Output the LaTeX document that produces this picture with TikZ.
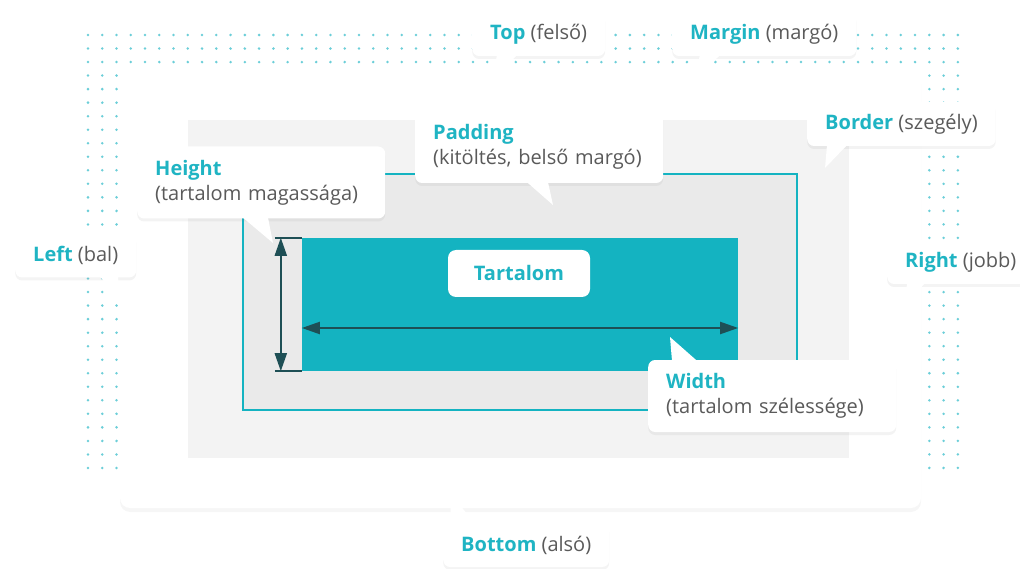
\documentclass[tikz,border=0pt]{standalone}
\usepackage{fontspec}
\setmainfont{Open Sans}
\usetikzlibrary{arrows.meta,shadows}
\definecolor{tealbox}{HTML}{14B3C1}
\definecolor{tealtxt}{HTML}{1FB4C3}
\definecolor{darkarr}{HTML}{1E4F55}
\definecolor{greytxt}{HTML}{5A5A5A}
\definecolor{borderfill}{HTML}{F3F3F3}
\definecolor{padfill}{HTML}{EAEAEA}
\definecolor{dotcol}{HTML}{6CCED8}
\newcommand\boxtitle[1]{{\color{tealtxt}\bfseries #1}}
\newcommand\boxnote[1]{{\color{greytxt}#1}}
\tikzset{
  softshadow/.style={drop shadow={opacity=0.09, shadow xshift=0pt, shadow yshift=-3pt}},
  bubble/.style={fill=white, rounded corners=7pt, inner xsep=18pt, inner ysep=0pt,
    minimum height=44pt, align=left, font=\fontsize{20}{25}\selectfont, softshadow},
  twoline/.style={minimum height=72pt, text width=212pt},
  tail/.style={fill=white},
  tick/.style={darkarr, line width=1.5pt},
  dim/.style={darkarr, line width=2pt,
    {Triangle[length=18pt,width=12pt]}-{Triangle[length=18pt,width=12pt]}},
}
\begin{document}
\begin{tikzpicture}[x=1pt, y=-1pt]
    \useasboundingbox (0,0) rectangle (1020,569);
    \foreach \i in {0,...,61} {
      \foreach \j in {0,...,32} {
        \fill[dotcol] ({88+\i*14.26},{35+\j*13.53}) circle (1.4pt);
      }
    }
    \fill[white, rounded corners=10pt, drop shadow={opacity=0.07, shadow xshift=0pt, shadow yshift=-4pt}]
      (120,70) rectangle (921,508);
    \fill[borderfill] (188,120) rectangle (849,458);
    \filldraw[fill=padfill, draw=tealbox, line width=2pt] (243,174) rectangle (797,410);
    \node[fill=tealbox, minimum width=436pt, minimum height=133pt, inner sep=0pt] (content) at (520,304.5) {};

    \draw[tick] ([xshift=-27pt]content.north west) -- (content.north west);
    \draw[tick] ([xshift=-27pt]content.south west) -- (content.south west);
    \draw[dim] ([xshift=-21pt]content.north west) -- ([xshift=-21pt]content.south west);
    \draw[dim] ([yshift=-23.5pt]content.west) -- ([yshift=-23.5pt]content.east);

    \node[bubble, rounded corners=8pt, minimum width=142pt, minimum height=47pt] (tart) at (519,273.5)
      {\boxtitle{Tartalom}};

    \coordinate (ttop) at (492,80);
    \coordinate (tmargin) at (693,80);
    \coordinate (tborder) at (825,168);
    \coordinate (tpad) at (553,205);
    \coordinate (theight) at (273,243);
    \coordinate (tleft) at (120,300);
    \coordinate (tright) at (905,305);
    \coordinate (twidth) at (670,337);
    \coordinate (tbottom) at (450,493);

    \node[bubble, anchor=west] (top) at (472,34) {\boxtitle{Top} \boxnote{(felső)}};
    \fill[tail] ([xshift=25pt,yshift=1pt]top.south west) -- (ttop) -- ([xshift=45pt,yshift=1pt]top.south west) -- cycle;

    \node[bubble, anchor=west] (margin) at (672,34) {\boxtitle{Margin} \boxnote{(margó)}};
    \fill[tail] ([xshift=28pt,yshift=1pt]margin.south west) -- (tmargin) -- ([xshift=48pt,yshift=1pt]margin.south west) -- cycle;

    \node[bubble, anchor=west] (border) at (807,124) {\boxtitle{Border} \boxnote{(szegély)}};
    \fill[tail] ([xshift=20pt,yshift=1pt]border.south west) -- (tborder) -- ([xshift=40pt,yshift=1pt]border.south west) -- cycle;

    \node[bubble, twoline, anchor=west] (padding) at (415,147)
      {\boxtitle{Padding}\\\boxnote{(kitöltés, belső margó)}};
    \fill[tail] ([xshift=112pt,yshift=1pt]padding.south west) -- (tpad) -- ([xshift=133pt,yshift=1pt]padding.south west) -- cycle;

    \node[bubble, twoline, anchor=west] (height) at (137,182.5)
      {\boxtitle{Height}\\\boxnote{(tartalom magassága)}};
    \fill[tail] ([xshift=106pt,yshift=1pt]height.south west) -- (theight) -- ([xshift=131pt,yshift=1pt]height.south west) -- cycle;

    \node[bubble, anchor=west] (left) at (15,255.5) {\boxtitle{Left} \boxnote{(bal)}};
    \fill[tail] ([xshift=85pt,yshift=1pt]left.south west) -- (tleft) -- ([xshift=103pt,yshift=1pt]left.south west) -- cycle;

    \node[bubble, anchor=west] (right) at (887,262) {\boxtitle{Right} \boxnote{(jobb)}};
    \fill[tail] ([xshift=20pt,yshift=1pt]right.south west) -- (tright) -- ([xshift=38pt,yshift=1pt]right.south west) -- cycle;

    \node[bubble, twoline, anchor=west] (width) at (648,396)
      {\boxtitle{Width}\\\boxnote{(tartalom szélessége)}};
    \fill[tail] ([xshift=24pt,yshift=-1pt]width.north west) -- (twidth) -- ([xshift=49pt,yshift=-1pt]width.north west) -- cycle;

    \node[bubble, anchor=west] (bottom) at (443,545) {\boxtitle{Bottom} \boxnote{(alsó)}};
    \fill[tail] ([xshift=8pt,yshift=-1pt]bottom.north west) -- (tbottom) -- ([xshift=32pt,yshift=-1pt]bottom.north west) -- cycle;
\end{tikzpicture}
\end{document}
